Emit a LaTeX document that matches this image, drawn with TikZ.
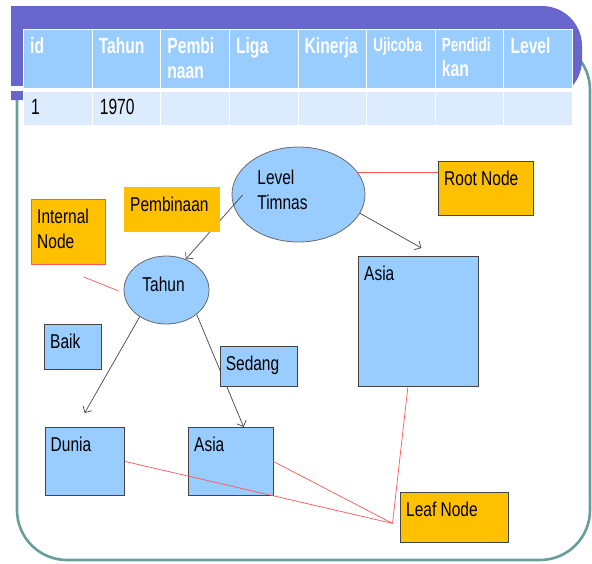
\documentclass[tikz,border=0pt]{standalone}
\usepackage{fontspec}
\setmainfont[FakeStretch=0.775]{Liberation Sans}
\newfontfamily\hdrfont[FakeStretch=0.71]{Liberation Sans}
\usetikzlibrary{shapes.geometric,arrows.meta,calc}

\definecolor{bandpurple}{HTML}{6666CC}
\definecolor{frameteal}{HTML}{679E9A}
\definecolor{hdrblue}{HTML}{99CCFF}
\definecolor{rowblue}{HTML}{DDEBFF}
\definecolor{nodeblue}{HTML}{99CCFF}
\definecolor{tagorange}{HTML}{FFC000}
\definecolor{tagred}{HTML}{FF5555}
\definecolor{edgegray}{HTML}{454545}
\definecolor{ellgray}{HTML}{6A6A6A}

\newcommand\smallhdr{\fontsize{19}{22}\selectfont}

\begin{document}
\begin{tikzpicture}
[
  x=1pt, y=-1pt,
  font=\fontsize{20}{25}\selectfont,
  hcell/.style={anchor=north west,fill=hdrblue,draw=white,line width=0.8pt,minimum width=68.625pt,minimum height=59pt,inner sep=0pt},
  rcell/.style={hcell,fill=rowblue,minimum height=34pt},
  htxt/.style={anchor=north west,inner xsep=7pt,inner ysep=8.5pt,text=white,align=left,font=\hdrfont\bfseries\fontsize{22}{25}\selectfont},
  rtxt/.style={anchor=west,inner xsep=8pt,yshift=1.5pt,font=\hdrfont\fontsize{22}{25}\selectfont},
  bluebox/.style={anchor=north west,draw=edgegray,fill=nodeblue,line width=0.8pt,inner sep=0pt},
  tagbox/.style={bluebox,fill=tagorange},
  intxt/.style={anchor=north west,inner xsep=6pt,inner ysep=10pt,align=left},
  ell/.style={ellipse,draw=ellgray,fill=nodeblue,line width=0.8pt,inner sep=0pt},
  ctxt/.style={anchor=center,align=left},
  arr/.style={draw=edgegray,line width=0.7pt,-{Straight Barb[length=5pt,width=10pt]}},
  tagline/.style={draw=tagred,line width=0.7pt}
]
\useasboundingbox (0,0) rectangle (592,563);

% frame and title band
\draw[frameteal,line width=2.6pt,rounded corners=50] (17,40) rectangle (590,560);
\fill[bandpurple] (11,100) -- (11,6) [rounded corners=40] -- (582,6) -- (582,100) [sharp corners] -- cycle;
\fill[white] (11,86) rectangle (572,90.5);

% table
\foreach \t [count=\i from 0] in {id,Tahun,{Pembi\\naan},Liga,Kinerja,{\smallhdr Ujicoba},{\smallhdr Pendidi\\kan},Level}
  \node[hcell,label={[htxt]north west:\t}] (h\i) at (23+68.625*\i,29) {};
\foreach \t [count=\i from 0] in {1,1970,{},{},{},{},{},{}}
  \node[rcell,label={[rtxt]west:\t}] (r\i) at (23+68.625*\i,91) {};

% tree
\node[ell,minimum width=133pt,minimum height=95pt,label={[ctxt,xshift=-16pt,yshift=4.3pt]center:Level\\Timnas}] (lvl) at (298.5,194.5) {};
\node[ell,minimum width=85pt,minimum height=68pt,label={[ctxt,xshift=-3pt,yshift=5.3pt]center:Tahun}] (tahun) at (166.5,290) {};

\node[bluebox,minimum width=120pt,minimum height=130pt,label={[intxt]north west:Asia}] (asiabig) at (358,256) {};
\node[bluebox,minimum width=79.5pt,minimum height=68pt,label={[intxt]north west:Dunia}] (dunia) at (44.5,427) {};
\node[bluebox,minimum width=84.5pt,minimum height=68pt,label={[intxt]north west:Asia}] (asiasm) at (188,427) {};

\draw[arr] ($(lvl.west)+(11,0.5)$) -- (tahun.58);
\draw[arr] (lvl.-17) -- ($(asiabig.north)+(3,-8)$);
\draw[arr] (tahun.-135) -- ($(dunia.north)+(0,-14)$);
\draw[arr] (tahun.-39) -- ($(asiasm.north)+(13,0)$);

% edge labels
\node[tagbox,draw=none,minimum width=96pt,minimum height=45pt,label={[intxt]north west:Pembinaan}] (pemb) at (124,187) {};
\node[bluebox,minimum width=57pt,minimum height=45pt,label={[intxt]north west:Baik}] (baik) at (44,324) {};
\node[bluebox,minimum width=77.5pt,minimum height=40pt,label={[intxt]north west:Sedang}] (sedang) at (219.6,346) {};

% annotations
\node[tagbox,minimum width=95pt,minimum height=54pt,label={[intxt]north west:Root Node}] (root) at (438,161) {};
\node[tagbox,draw=tagred,minimum width=74pt,minimum height=65pt,label={[intxt]north west:Internal\\Node}] (internal) at (31,199) {};
\node[tagbox,minimum width=107.5pt,minimum height=50pt,label={[intxt]north west:Leaf Node}] (leaf) at (400,492) {};
\coordinate (leafpt) at ($(leaf.west)+(-7.5,6)$);

\draw[tagline] (lvl.20) -- (lvl.20 -| root.west);
\draw[tagline] ($(internal.south)+(15,12)$) -- ($(tahun.west)+(-5,1)$);
\draw[tagline] (dunia.east) -- (leafpt);
\draw[tagline] (asiasm.east) -- (leafpt);
\draw[tagline] ($(asiabig.south)+(-10.5,0)$) -- (leafpt);

\end{tikzpicture}
\end{document}
